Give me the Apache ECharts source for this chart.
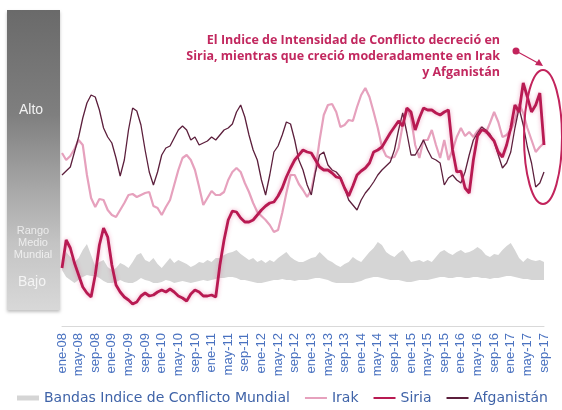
<!DOCTYPE html>
<html>
<head>
<meta charset="utf-8">
<script src="https://cdn.jsdelivr.net/npm/echarts@6/dist/echarts.min.js"></script>
<style>
html, body {margin: 0; padding: 0; background: #fff;}
#main {width: 562px; height: 410px;}
</style>
</head>
<body>
<div id="main"></div>
<script>
// meses ene-08 ... sep-17
let meses = ['ene','feb','mar','abr','may','jun','jul','ago','sep','oct','nov','dic'];
let fechas = [];
for (let a = 8; a <= 17; a++) {
    meses.forEach((m, k) => {
        if (a == 17 && k > 8) return;
        fechas.push(m + '-' + (a < 10 ? '0' + a : a));
    });
}

// indice de intensidad (escala 0-300, sin etiquetas)
let irak = [173,166,170,177,186,181,151,128,119,127,
    126,116,111,109,116,123,131,132,129,131,
    133,134,120,118,111,119,126,141,156,168,
    171,166,156,139,121,128,135,131,131,134,
    146,154,158,154,143,134,123,114,110,106,
    101,94,96,113,133,151,151,142,136,129,
    136,156,186,211,221,222,214,199,201,206,
    205,219,231,238,229,214,198,179,170,168,
    169,178,201,218,208,181,168,186,186,196,
    181,168,186,166,176,189,198,190,194,189,
    195,199,193,203,214,204,189,191,196,206,
    222,213,198,186,174,179,183];

let siria = [58,86,78,63,51,39,33,29,51,81,
    98,89,61,41,34,29,26,22,24,30,
    33,30,31,34,36,34,37,34,30,28,
    25,32,36,34,30,30,31,29,61,86,
    106,115,114,108,104,104,106,111,116,120,
    123,124,130,138,149,158,166,171,176,174,
    173,166,159,156,156,153,149,148,138,130,
    140,151,155,158,163,174,176,179,186,193,
    199,205,200,218,214,196,208,218,216,216,
    213,211,214,216,176,154,155,138,133,166,
    190,196,195,190,185,174,169,181,198,221,
    214,243,229,214,221,233,181];

let afganistan = [151,155,159,174,189,208,223,231,229,216,
    198,189,183,168,150,166,196,218,215,201,
    176,154,141,154,171,178,180,188,196,200,
    196,186,189,181,183,185,189,186,191,196,
    198,202,214,221,209,191,176,166,146,131,
    151,174,180,191,204,202,186,166,156,141,
    131,154,171,174,161,156,154,149,138,126,
    121,116,126,133,138,144,151,156,160,164,
    176,196,213,193,171,171,178,186,176,168,
    166,163,141,148,151,146,143,154,171,186,
    193,199,196,192,184,171,158,163,174,198,
    218,201,179,163,139,143,154];

// bandas del indice mundial (borde superior / inferior)
let bandaAlta = [64,74,69,64,68,76,82,71,60,64,
    66,59,56,58,63,61,58,64,71,73,
    66,64,68,62,58,63,68,63,66,64,
    62,59,61,64,63,66,64,68,68,71,
    73,74,76,72,69,66,68,64,66,63,
    66,64,68,71,74,69,66,64,64,66,
    68,69,74,70,66,64,61,59,62,64,
    69,66,64,69,74,78,84,81,74,71,
    69,73,76,70,64,65,66,64,66,64,
    69,74,76,73,71,74,76,73,74,76,
    79,76,71,69,72,71,76,80,83,76,
    68,64,68,66,65,66,64];

let bandaBaja = [56,49,46,43,46,49,51,50,50,48,
    45,43,43,44,46,44,43,43,45,48,
    46,45,43,43,44,46,45,43,44,45,
    44,43,44,45,46,45,46,47,48,48,
    49,49,48,46,46,45,44,43,43,44,
    45,46,46,47,46,46,45,46,46,46,
    47,48,48,47,46,44,43,43,43,43,
    43,44,45,47,48,49,49,48,47,46,
    46,46,45,44,44,45,46,46,46,47,
    48,49,49,48,48,49,49,48,48,49,
    49,48,48,47,48,48,49,50,50,49,
    48,47,47,46,46,46,46];

let nombreBanda = 'Bandas Indice de Conflicto Mundial';
let titulo = ['El Indice de Intensidad de Conflicto decreció en',
    'Siria, mientras que creció moderadamente en Irak',
    'y Afganistán'];

let grosor = bandaAlta.map((v, i) => v - bandaBaja[i]);

let myChart = echarts.init(document.getElementById('main'));

let graficos = [
    {
        type: 'rect',
        shape: {x: 7, y: 10, width: 53, height: 300},
        style: {
            fill: new echarts.graphic.LinearGradient(0, 0, 0, 1, [
                {offset: 0, color: '#6a6a6a'},
                {offset: 0.35, color: '#7f7f7f'},
                {offset: 0.6, color: '#a8a8a8'},
                {offset: 0.78, color: '#c4c4c4'},
                {offset: 1, color: '#d8d8d8'}
            ]),
            shadowBlur: 3,
            shadowOffsetY: 2,
            shadowColor: 'rgba(0,0,0,0.25)'
        },
        z: 0
    },
    {type: 'text', style: {text: 'Alto', x: 31, y: 110, fill: '#f2f2f2', font: '14px "Liberation Sans"', textAlign: 'center', textVerticalAlign: 'middle'}},
    {type: 'text', style: {text: 'Rango', x: 33, y: 231, fill: 'rgba(255,255,255,0.7)', font: '11px "Liberation Sans"', textAlign: 'center', textVerticalAlign: 'middle'}},
    {type: 'text', style: {text: 'Medio', x: 33, y: 243, fill: 'rgba(255,255,255,0.7)', font: '11px "Liberation Sans"', textAlign: 'center', textVerticalAlign: 'middle'}},
    {type: 'text', style: {text: 'Mundial', x: 33, y: 255, fill: 'rgba(255,255,255,0.7)', font: '11px "Liberation Sans"', textAlign: 'center', textVerticalAlign: 'middle'}},
    {type: 'text', style: {text: 'Bajo', x: 32, y: 282, fill: '#f4f4f4', font: '14px "Liberation Sans"', textAlign: 'center', textVerticalAlign: 'middle'}},
    // anotacion
    {type: 'ellipse', shape: {cx: 543, cy: 137, rx: 19, ry: 67}, style: {fill: 'none', stroke: '#c2245c', lineWidth: 2}, z: 10},
    {type: 'circle', shape: {cx: 516, cy: 51, r: 3.5}, style: {fill: '#c2245c'}, z: 10},
    {type: 'line', shape: {x1: 516, y1: 51, x2: 538, y2: 63}, style: {stroke: '#c2245c', lineWidth: 1.2}, z: 10},
    {type: 'polygon', shape: {points: [[543, 66], [535, 65], [539, 59]]}, style: {fill: '#c2245c'}, z: 10}
];
titulo.forEach((t, i) => {
    graficos.push({type: 'text', style: {text: t, x: 500, y: 40 + i * 16, fill: '#c2285f', font: 'bold 12.5px "Open Sans"', textAlign: 'right', textVerticalAlign: 'middle'}, z: 10});
});

myChart.setOption({
    animation: false,
    grid: {left: 62, right: 18, top: 26, bottom: 84},
    legend: {
        left: 17,
        right: 0,
        top: 391,
        padding: 0,
        itemWidth: 22,
        itemHeight: 5,
        itemGap: 14,
        itemStyle: {color: 'rgba(0,0,0,0)', borderWidth: 0},
        textStyle: {color: '#3f63a8', fontSize: 14, fontFamily: 'DejaVu Sans'},
        data: [
            {name: nombreBanda, icon: 'rect', itemStyle: {color: '#d5d5d5'}},
            'Irak', 'Siria', 'Afganistán'
        ]
    },
    xAxis: {
        type: 'category',
        data: fechas,
        boundaryGap: false,
        axisLine: {lineStyle: {color: '#d9d9d9', width: 1}},
        axisTick: {show: false},
        axisLabel: {interval: 3, rotate: 90, margin: 7, color: '#4a72c0', fontSize: 13, fontFamily: 'Liberation Sans'}
    },
    yAxis: {type: 'value', min: 0, max: 300, show: false},
    graphic: graficos,
    series: [
        {
            name: 'base',
            type: 'line',
            stack: 'banda',
            data: bandaBaja,
            symbol: 'none',
            silent: true,
            lineStyle: {opacity: 0}
        },
        {
            name: nombreBanda,
            type: 'line',
            stack: 'banda',
            data: grosor,
            symbol: 'none',
            color: '#d5d5d5',
            lineStyle: {opacity: 0},
            areaStyle: {color: '#d5d5d5', opacity: 1}
        },
        {
            name: 'Irak',
            type: 'line',
            data: irak,
            symbol: 'none',
            color: '#e6a1bd',
            lineStyle: {width: 2.2, color: '#e6a1bd'}
        },
        {
            name: 'Afganistán',
            type: 'line',
            data: afganistan,
            symbol: 'none',
            color: '#5c1f3c',
            lineStyle: {width: 1.3, color: '#5c1f3c'}
        },
        {
            name: 'Siria',
            type: 'line',
            data: siria,
            symbol: 'none',
            color: '#b81a52',
            lineStyle: {width: 2.8, color: '#b81a52', shadowColor: 'rgba(225,70,130,0.45)', shadowBlur: 4}
        }
    ]
});

window.addEventListener('resize', () => myChart.resize());
</script>
</body>
</html>
